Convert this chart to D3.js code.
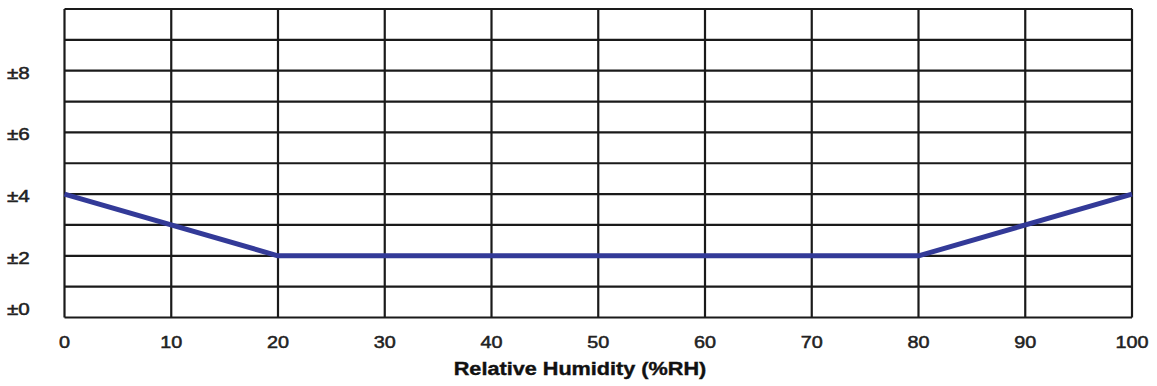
<!DOCTYPE html>
<html>
<head>
<meta charset="utf-8">
<script src="https://cdn.jsdelivr.net/npm/d3@7"></script>
<style>
  html, body { margin: 0; padding: 0; background: #fff; }
  text { font-family: "Liberation Sans", Arial, sans-serif; }
</style>
</head>
<body>
<svg id="chart" width="1157" height="386"></svg>
<script>
// ---- data ----
const humidity = [0, 20, 80, 100];          // %RH
const accuracy = [4, 2, 2, 4];              // ±%RH
const xTicks = [0, 10, 20, 30, 40, 50, 60, 70, 80, 90, 100];
const yGrid = [0, 1, 2, 3, 4, 5, 6, 7, 8, 9, 10];
const yTicks = [0, 2, 4, 6, 8];
const yTickLabels = ["±0", "±2", "±4", "±6", "±8"];
const xTitle = "Relative Humidity (%RH)";

// ---- layout ----
const svg = d3.select("#chart");
const mLeft = 64.5, mRight = 1132, mTop = 9, mBottom = 317.5;
const x = d3.scaleLinear().domain([0, 100]).range([mLeft, mRight]);
const y = d3.scaleLinear().domain([0, 10]).range([mBottom, mTop]);

svg.append("rect").attr("width", 1157).attr("height", 386).attr("fill", "#fff");

const grid = svg.append("g").attr("stroke", "#1a1a1a").attr("stroke-width", 2.2);
grid.selectAll("line.h").data(yGrid).join("line")
  .attr("class", "h")
  .attr("x1", mLeft).attr("x2", mRight)
  .attr("y1", d => y(d)).attr("y2", d => y(d));
grid.selectAll("line.v").data(xTicks).join("line")
  .attr("class", "v")
  .attr("y1", mTop).attr("y2", mBottom)
  .attr("x1", d => x(d)).attr("x2", d => x(d));

// line
const pts = humidity.map((h, i) => [h, accuracy[i]]);
svg.append("path")
  .datum(pts)
  .attr("fill", "none")
  .attr("stroke", "#333a98")
  .attr("stroke-width", 5)
  .attr("stroke-linejoin", "round")
  .attr("d", d3.line().x(d => x(d[0])).y(d => y(d[1])));

// x tick labels
svg.append("g").selectAll("text").data(xTicks).join("text")
  .attr("transform", d => `translate(${x(d)},348) scale(1.2,1)`)
  .attr("text-anchor", "middle")
  .attr("font-size", 16.5)
  .attr("fill", "#222")
  .attr("stroke", "#222")
  .attr("stroke-width", 0.5)
  .text(d => d);

// y tick labels
svg.append("g").selectAll("text").data(yTicks).join("text")
  .attr("transform", d => `translate(7,${d === 0 ? y(d) - 3 : y(d) + 8}) scale(1.25,1)`)
  .attr("text-anchor", "start")
  .attr("font-size", 16.5)
  .attr("fill", "#222")
  .attr("stroke", "#222")
  .attr("stroke-width", 0.5)
  .text((d, i) => yTickLabels[i]);

// x title
svg.append("text")
  .attr("transform", "translate(580,375) scale(1.14,1)")
  .attr("text-anchor", "middle")
  .attr("font-size", 19)
  .attr("font-weight", "bold")
  .attr("fill", "#111")
  .attr("stroke", "#111")
  .attr("stroke-width", 0.4)
  .text(xTitle);
</script>
</body>
</html>
